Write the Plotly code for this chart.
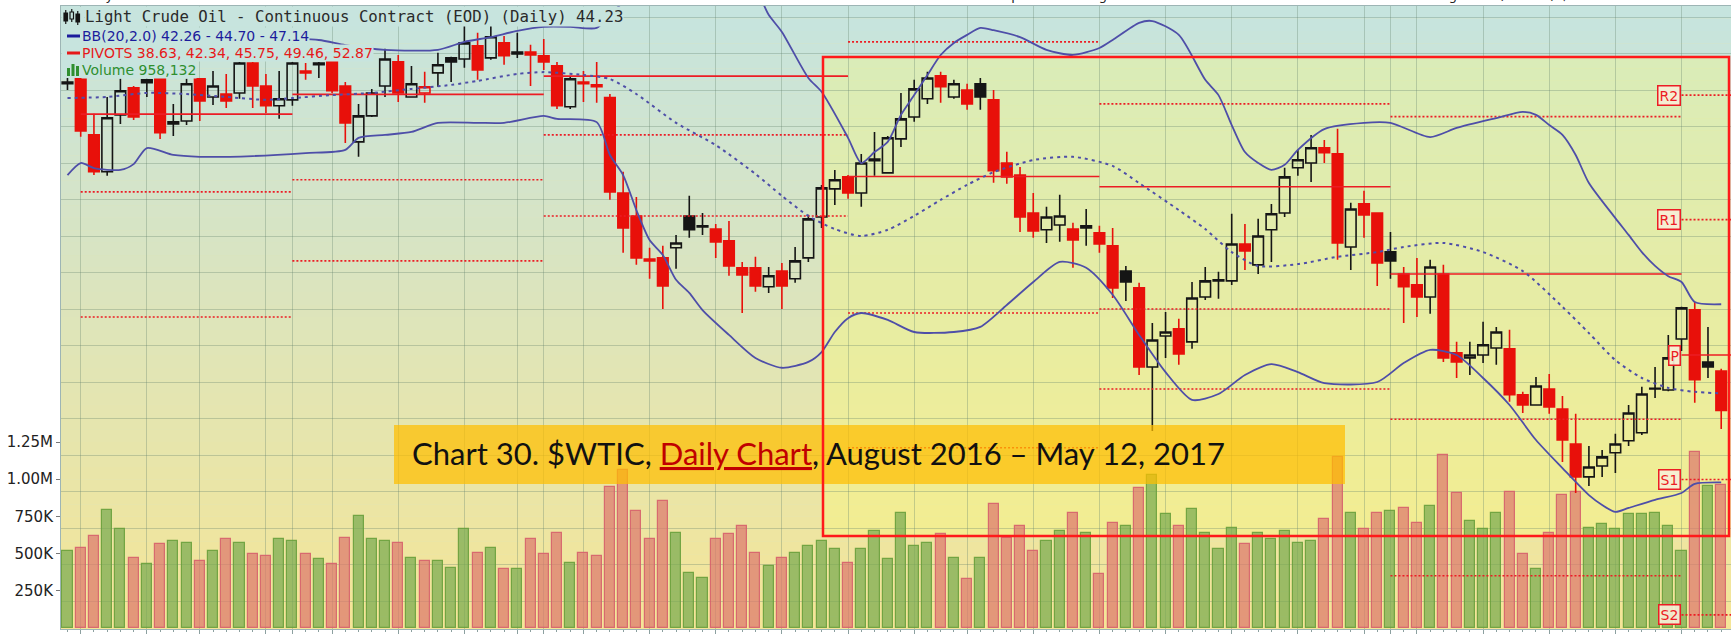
import plotly.graph_objects as go

# ---------------- data ----------------
open_ = [53.18, 53.32, 51.78, 50.77, 52.33, 53.07, 53.29, 53.32, 52.14, 52.16,
         53.32, 52.82, 52.90, 52.93, 53.75, 53.12, 52.58, 52.74, 53.53, 53.75,
         53.78, 53.12, 51.59, 52.30, 53.12, 53.78, 52.82, 52.93, 53.48, 53.89,
         53.86, 54.22, 53.89, 54.30, 54.05, 54.05, 53.95, 53.67, 52.55, 53.23,
         53.15, 52.80, 50.19, 49.56, 48.38, 48.41, 48.69, 49.56, 49.29, 49.20,
         48.88, 48.14, 48.14, 47.62, 48.05, 47.84, 48.41, 49.53, 50.30, 50.63,
         50.19, 51.12, 50.74, 51.67, 52.27, 52.77, 53.40, 52.82, 53.01, 53.18,
         52.74, 51.01, 50.68, 49.64, 49.18, 49.31, 49.20, 49.29, 49.10, 48.74,
         48.05, 47.59, 45.42, 46.27, 46.47, 46.11, 47.34, 47.78, 47.78, 48.79,
         48.22, 49.18, 49.64, 50.88, 51.01, 51.43, 51.26, 48.71, 49.89, 49.64,
         48.58, 47.97, 47.67, 47.34, 47.97, 45.81, 45.67, 45.75, 45.94, 45.92,
         44.66, 44.38, 44.82, 44.27, 43.31, 42.41, 42.71, 43.07, 43.40, 43.62,
         44.84, 44.79, 46.19, 46.99, 45.56, 45.31]
high = [53.34, 53.34, 52.36, 52.82, 53.32, 53.12, 53.32, 53.34, 52.63, 53.32,
        53.34, 53.53, 53.45, 53.78, 53.78, 53.45, 53.53, 53.78, 53.75, 53.78,
        53.80, 53.23, 52.63, 53.04, 54.14, 53.97, 53.67, 53.51, 54.03, 53.92,
        54.77, 54.58, 54.80, 54.49, 54.58, 54.25, 54.41, 53.78, 53.37, 53.53,
        53.78, 52.90, 50.77, 50.08, 48.69, 48.74, 49.04, 50.11, 49.64, 49.34,
        49.42, 48.30, 48.44, 48.16, 48.27, 48.71, 49.59, 50.41, 50.82, 50.68,
        51.26, 51.86, 51.75, 52.93, 53.29, 53.51, 53.51, 53.29, 53.18, 53.34,
        53.01, 51.32, 50.90, 50.19, 49.81, 50.14, 49.37, 49.75, 49.29, 49.23,
        48.19, 47.73, 46.63, 46.93, 46.74, 47.75, 48.16, 48.03, 49.62, 49.34,
        49.48, 49.89, 50.88, 51.37, 51.78, 51.64, 51.95, 49.92, 50.25, 49.66,
        49.12, 48.16, 48.41, 48.36, 48.22, 46.11, 46.11, 46.66, 46.52, 46.44,
        44.74, 45.15, 45.23, 44.63, 44.14, 43.26, 43.15, 43.59, 44.38, 44.88,
        45.42, 46.30, 47.07, 47.21, 46.52, 45.37]
low = [53.01, 51.73, 50.68, 50.66, 52.08, 52.19, 52.82, 51.67, 51.75, 52.05,
       52.16, 52.60, 52.52, 52.77, 52.52, 52.38, 52.22, 52.58, 53.29, 53.34,
       52.93, 51.56, 51.18, 52.27, 52.82, 52.68, 52.80, 52.66, 53.10, 53.23,
       53.62, 53.29, 53.84, 53.70, 53.89, 53.12, 53.56, 52.49, 52.49, 52.68,
       52.66, 50.00, 48.55, 48.22, 47.84, 47.01, 48.11, 48.96, 49.04, 48.41,
       47.92, 46.90, 47.48, 47.45, 47.01, 47.73, 48.30, 49.23, 49.86, 50.03,
       49.81, 50.66, 50.72, 51.45, 52.14, 52.63, 52.66, 52.77, 52.47, 52.47,
       50.47, 50.44, 49.12, 48.96, 48.82, 48.85, 48.14, 48.74, 48.55, 47.31,
       47.23, 45.20, 43.67, 45.67, 45.48, 45.92, 47.26, 47.29, 47.67, 48.08,
       47.97, 48.30, 49.53, 50.66, 50.49, 51.01, 48.36, 48.08, 48.96, 47.64,
       47.84, 46.63, 46.79, 46.88, 45.56, 45.12, 45.20, 45.53, 45.48, 44.47,
       44.16, 44.36, 44.14, 42.82, 41.97, 42.16, 42.41, 42.52, 43.26, 43.56,
       44.57, 44.76, 45.86, 44.44, 45.12, 43.72]
close = [53.23, 51.89, 50.77, 52.25, 52.99, 52.27, 53.21, 51.84, 52.08, 53.18,
         52.71, 53.12, 52.71, 53.75, 53.12, 52.58, 52.77, 53.75, 53.48, 53.70,
         52.99, 52.11, 52.30, 52.93, 53.86, 52.93, 53.18, 53.10, 53.70, 53.78,
         54.30, 53.56, 54.47, 53.95, 54.00, 53.97, 53.78, 52.58, 53.32, 53.18,
         53.10, 50.22, 49.23, 48.41, 48.33, 47.64, 48.82, 49.18, 49.26, 48.85,
         48.19, 47.94, 47.64, 47.92, 47.64, 48.33, 49.48, 50.33, 50.55, 50.19,
         51.01, 51.07, 51.70, 52.22, 53.04, 53.34, 53.10, 53.18, 52.63, 52.82,
         50.80, 50.63, 49.53, 49.15, 49.53, 49.56, 48.90, 49.23, 48.79, 47.59,
         47.75, 45.42, 46.16, 46.38, 45.78, 47.31, 47.78, 47.81, 48.79, 48.60,
         49.01, 49.62, 50.63, 51.10, 51.43, 51.29, 48.82, 49.75, 49.59, 48.27,
         48.33, 47.62, 47.34, 48.16, 45.67, 45.56, 45.75, 46.03, 46.38, 44.66,
         44.38, 44.90, 44.33, 43.42, 42.41, 42.68, 42.96, 43.31, 44.16, 44.68,
         44.82, 45.67, 47.04, 45.07, 45.42, 44.23]
# daily volume, thousands of contracts
volume_k = [517, 540, 616, 795, 663, 473, 428, 562, 585, 573,
            450, 517, 596, 573, 495, 484, 596, 585, 495, 461,
            428, 607, 750, 596, 585, 573, 473, 450, 450, 405,
            663, 506, 540, 394, 394, 596, 495, 641, 439, 506,
            484, 950, 1062, 784, 596, 851, 641, 372, 338, 596,
            630, 685, 506, 417, 473, 506, 551, 585, 529, 439,
            529, 652, 461, 773, 551, 573, 630, 473, 327, 473,
            831, 607, 685, 517, 585, 652, 775, 641, 361, 708,
            685, 943, 1028, 764, 685, 797, 641, 529, 674, 562,
            641, 596, 652, 573, 585, 730, 1151, 775, 663, 775,
            786, 809, 708, 820, 1163, 905, 719, 663, 775, 916,
            497, 396, 641, 894, 916, 674, 697, 663, 764, 764,
            775, 685, 517, 1185, 954, 958.132]

# Bollinger Bands (20, 2.0) sampled along the session index
bb_upper_idx = [0, 5, 10, 15, 19, 21, 24, 28, 30, 32, 34, 36, 38, 40, 41, 42, 44, 48, 52, 53,
                54, 56, 57, 59, 60, 61, 62, 63, 64, 65, 66, 67, 68, 69, 70, 72, 74, 76, 78, 79,
                81, 82, 84, 86, 87, 88, 89, 90, 91, 92, 93, 95, 98, 100, 103, 105, 108, 110, 111, 112,
                113, 114, 115, 117, 118, 119, 120, 121, 122, 123, 125]
bb_upper = [54.38, 54.41, 54.44, 54.44, 54.38, 54.24, 54.11, 54.11, 54.33, 54.46,
            54.63, 54.74, 54.74, 54.71, 55.07, 55.42, 56.16, 56.57, 55.75, 55.07,
            54.60, 53.34, 52.96, 51.70, 51.01, 51.31, 51.59, 52.33, 52.87, 53.42,
            53.97, 54.30, 54.52, 54.71, 54.65, 54.46, 54.11, 53.97, 54.16, 54.38,
            54.85, 54.90, 54.52, 53.29, 52.87, 52.05, 51.31, 51.01, 50.82, 50.96,
            51.37, 51.94, 52.11, 52.11, 51.72, 51.97, 52.24, 52.41, 52.33, 52.05,
            51.78, 51.23, 50.46, 49.50, 49.04, 48.57, 48.19, 47.91, 47.75, 47.20, 47.14]
bb_mid_idx = [0, 3, 6, 9, 12, 15, 17, 20, 23, 26, 29, 31, 34, 36, 39, 41, 43, 46, 49, 52,
              54, 56, 58, 60, 62, 64, 66, 68, 70, 73, 76, 79, 81, 84, 86, 88, 90, 93, 96, 99,
              101, 104, 107, 110, 113, 115, 117, 119, 121, 123, 125]
bb_mid = [52.79, 52.82, 52.93, 52.90, 52.82, 52.74, 52.79, 52.87, 52.93, 53.04,
          53.15, 53.26, 53.45, 53.50, 53.42, 53.31, 52.90, 52.11, 51.50, 50.71,
          50.11, 49.56, 49.20, 49.01, 49.18, 49.56, 50.00, 50.41, 50.76, 51.09,
          51.18, 50.93, 50.46, 49.72, 49.20, 48.57, 48.19, 48.24, 48.44, 48.57,
          48.71, 48.82, 48.57, 48.05, 47.07, 46.35, 45.61, 45.12, 44.85, 44.74, 44.70]
bb_lower_idx = [0, 1, 2, 4, 5, 6, 8, 10, 14, 18, 21, 22, 24, 26, 28, 31, 33, 36, 37, 40,
                41, 42, 43, 44, 45, 46, 47, 48, 50, 52, 54, 56, 57, 58, 59, 60, 62, 64, 67, 69,
                71, 73, 75, 77, 79, 81, 83, 85, 87, 89, 91, 93, 95, 99, 101, 103, 105, 107, 109, 111,
                113, 115, 116, 117, 118, 120, 122, 123, 125]
bb_lower = [50.68, 51.01, 50.87, 50.82, 50.98, 51.42, 51.23, 51.18, 51.20, 51.28,
            51.37, 51.70, 51.78, 51.86, 52.11, 52.11, 52.11, 52.30, 52.22, 52.13,
            51.23, 50.68, 49.72, 48.90, 48.49, 47.81, 47.45, 46.98, 46.30, 45.67,
            45.40, 45.56, 45.83, 46.38, 46.76, 46.90, 46.71, 46.38, 46.38, 46.52,
            47.12, 47.75, 48.30, 48.14, 47.40, 46.30, 45.28, 44.52, 44.68, 45.20,
            45.50, 45.28, 44.98, 45.01, 45.53, 45.89, 45.75, 45.12, 44.38, 43.42,
            42.65, 41.91, 41.64, 41.45, 41.56, 41.78, 41.97, 42.22, 42.26]

# monthly pivot levels, one value per pivot period
period_start = [1, 17, 36, 59, 78, 100, 122]
pivot_R2 = [57.91, 57.45, 57.22, 58.07, 55.98, 56.26, 52.87]
pivot_R1 = [55.78, 55.11, 55.61, 54.33, 52.63, 52.28, 49.46]
pivot_P = [52.35, 52.89, 53.39, 50.64, 50.36, 47.97, 45.75]
pivot_S1 = [50.22, 50.55, 51.78, 46.90, 47.01, 43.99, 42.34]
pivot_S2 = [46.79, 48.33, 49.56, 43.21, 44.82, 39.70, 38.63]

# session index of week starts (vertical grid) and month labels
week_lines = [1, 6, 10, 15, 17, 20, 25, 30, 34, 36, 39, 44, 49, 54, 59, 64, 68, 73, 78,
              83, 88, 93, 98, 100, 102, 107, 112, 117, 122]
month_labels = ["Dec", "2017", "Feb", "Mar", "Apr", "May"]

# ---------------- styling ----------------
W, H = 1731, 634
L, T, B = 61, 6, 5
PW, PH = W - L, H - T - B


def px_x(x):
    return (x - L) / PW


def px_y(y):
    return (H - B - y) / PH


RED = "#e8100a"
BLACK = "#151515"
PIV = "#ec1c24"
BBC = "rgb(78,78,168)"
GRID = "rgba(100,130,110,0.33)"
BG_TOP = (198, 228, 223)
BG_BOT = (245, 229, 150)

n = len(close)
idx = list(range(n))
up = [True] + [close[i] >= close[i - 1] for i in range(1, n)]

fig = go.Figure()

# volume bars (primary y axis, drawn underneath price)
fig.add_trace(go.Bar(
    x=idx, y=[v * 1000 for v in volume_k], width=0.76, yaxis="y",
    marker=dict(color=["rgba(120,170,80,0.72)" if u else "rgba(220,120,110,0.72)" for u in up],
                line=dict(color=["rgba(105,160,60,0.9)" if u else "rgba(214,96,108,0.9)" for u in up],
                          width=1.2)),
    hoverinfo="skip", showlegend=False))

# pivot segments
for vals, dash in [(pivot_R2, "2px,2px"), (pivot_R1, "2px,2px"), (pivot_P, "solid"),
                   (pivot_S1, "2px,2px"), (pivot_S2, "2px,2px")]:
    xs, ys = [], []
    for m, v in enumerate(vals):
        x0 = period_start[m]
        x1 = period_start[m + 1] if m + 1 < len(period_start) else n
        xs += [x0, x1, None]
        ys += [v, v, None]
    fig.add_trace(go.Scatter(x=xs, y=ys, mode="lines", yaxis="y2",
                             line=dict(color=PIV, width=1.6, dash=dash),
                             hoverinfo="skip", showlegend=False))

# candles: black when close >= previous close, red otherwise; hollow when close > open
for colr, flag in [(BLACK, True), (RED, False)]:
    sel = [i for i in idx if up[i] == flag]
    fig.add_trace(go.Candlestick(
        x=sel, open=[open_[i] for i in sel], high=[high[i] for i in sel],
        low=[low[i] for i in sel], close=[close[i] for i in sel], yaxis="y2",
        increasing=dict(line=dict(color=colr, width=1.6), fillcolor="rgba(0,0,0,0)"),
        decreasing=dict(line=dict(color=colr, width=1.6), fillcolor=colr),
        whiskerwidth=0, hoverinfo="skip", showlegend=False))

# Bollinger bands
fig.add_trace(go.Scatter(x=bb_upper_idx, y=bb_upper, mode="lines", yaxis="y2",
                         line=dict(color=BBC, width=1.8, shape="spline", smoothing=0.7),
                         hoverinfo="skip", showlegend=False))
fig.add_trace(go.Scatter(x=bb_lower_idx, y=bb_lower, mode="lines", yaxis="y2",
                         line=dict(color=BBC, width=1.8, shape="spline", smoothing=0.7),
                         hoverinfo="skip", showlegend=False))
fig.add_trace(go.Scatter(x=bb_mid_idx, y=bb_mid, mode="lines", yaxis="y2",
                         line=dict(color=BBC, width=2, dash="3px,4px", shape="spline", smoothing=0.7),
                         hoverinfo="skip", showlegend=False))

shapes = []
# vertical gradient background of the plotting area
NB = 50
for k in range(NB):
    f = (k + 0.5) / NB
    c = tuple(round(BG_TOP[j] + (BG_BOT[j] - BG_TOP[j]) * f) for j in range(3))
    shapes.append(dict(type="rect", xref="paper", yref="paper", layer="below",
                       x0=0, x1=1, y0=1 - (k + 1) / NB, y1=1 - k / NB,
                       fillcolor="rgb(%d,%d,%d)" % c, line=dict(width=0)))

# highlighted region tint (behind the data), caption box, then region outline
shapes.append(dict(type="rect", xref="paper", yref="paper", layer="below",
                   x0=px_x(823), x1=px_x(1729), y0=px_y(536), y1=px_y(57),
                   fillcolor="rgba(255,255,110,0.30)", line=dict(width=0)))
shapes.append(dict(type="rect", xref="paper", yref="paper", layer="above",
                   x0=px_x(394), x1=px_x(1345), y0=px_y(484), y1=px_y(425),
                   fillcolor="rgba(255,190,0,0.72)", line=dict(width=0)))
shapes.append(dict(type="rect", xref="paper", yref="paper", layer="above",
                   x0=px_x(823), x1=px_x(1729), y0=px_y(536), y1=px_y(57),
                   fillcolor="rgba(0,0,0,0)", line=dict(color="#ff1a1a", width=2.5)))

# legend symbol column
shapes.append(dict(type="rect", xref="paper", yref="paper", layer="above",
                   x0=px_x(61.5), x1=px_x(84), y0=px_y(78), y1=px_y(7),
                   fillcolor="rgb(199,228,222)", line=dict(width=0)))
for (x0, x1, y0, y1, filled) in [(64, 67.5, 13, 21, True), (70, 73.5, 12, 19, False), (76, 79.5, 14, 22, True)]:
    xm = (x0 + x1) / 2
    shapes.append(dict(type="line", xref="paper", yref="paper", layer="above",
                       x0=px_x(xm), x1=px_x(xm), y0=px_y(y0 - 3), y1=px_y(y1 + 3),
                       line=dict(color=BLACK, width=1.2)))
    shapes.append(dict(type="rect", xref="paper", yref="paper", layer="above",
                       x0=px_x(x0), x1=px_x(x1), y0=px_y(y1), y1=px_y(y0),
                       fillcolor=BLACK if filled else "rgb(199,228,222)",
                       line=dict(color=BLACK, width=1.2)))
shapes.append(dict(type="line", xref="paper", yref="paper", layer="above",
                   x0=px_x(67), x1=px_x(80), y0=px_y(36), y1=px_y(36),
                   line=dict(color="#1c1c9c", width=3)))
shapes.append(dict(type="line", xref="paper", yref="paper", layer="above",
                   x0=px_x(67), x1=px_x(80), y0=px_y(53), y1=px_y(53),
                   line=dict(color="#e61919", width=3)))
for (x0, x1, y0) in [(67, 70, 68), (71.5, 74.5, 64), (76, 79, 66)]:
    shapes.append(dict(type="rect", xref="paper", yref="paper", layer="above",
                       x0=px_x(x0), x1=px_x(x1), y0=px_y(76), y1=px_y(y0),
                       fillcolor="#2f8f2f", line=dict(width=0)))

annotations = []
LEG_BG = "rgb(199,228,222)"
annotations.append(dict(
    xref="paper", yref="paper", x=px_x(84), y=px_y(17), xanchor="left", yanchor="middle",
    text="Light Crude Oil - Continuous Contract (EOD) (Daily) %.2f" % close[-1],
    showarrow=False, bgcolor=LEG_BG, borderpad=0,
    font=dict(family="DejaVu Sans Mono", size=15.7, color="#2a2a2a")))
annotations.append(dict(
    xref="paper", yref="paper", x=px_x(81), y=px_y(36), xanchor="left", yanchor="middle",
    text="BB(20,2.0) %.2f - %.2f - %.2f" % (bb_lower[-1], bb_mid[-1], bb_upper[-1]),
    showarrow=False, bgcolor=LEG_BG, borderpad=0,
    font=dict(family="DejaVu Sans", size=14, color="#1c1c9c")))
annotations.append(dict(
    xref="paper", yref="paper", x=px_x(81), y=px_y(53), xanchor="left", yanchor="middle",
    text="PIVOTS " + ", ".join("%.2f" % v[-1] for v in [pivot_S2, pivot_S1, pivot_P, pivot_R1, pivot_R2]),
    showarrow=False, bgcolor=LEG_BG, borderpad=0,
    font=dict(family="DejaVu Sans", size=14, color="#e61919")))
annotations.append(dict(
    xref="paper", yref="paper", x=px_x(81), y=px_y(70), xanchor="left", yanchor="middle",
    text="Volume {:,}".format(round(volume_k[-1] * 1000)),
    showarrow=False, bgcolor=LEG_BG, borderpad=0,
    font=dict(family="DejaVu Sans", size=14, color="#2f8f2f")))

# header lines above the plotting area
annotations.append(dict(
    xref="paper", yref="paper", x=px_x(63), y=px_y(-4), xanchor="left", yanchor="middle",
    text="12-May-2017", showarrow=False,
    font=dict(family="DejaVu Sans", size=13, color="#222")))
chg = close[-1] - close[-2]
annotations.append(dict(
    xref="paper", yref="paper", x=px_x(999), y=px_y(-4), xanchor="left", yanchor="middle",
    text="Open %.2f  High %.2f  Low %.2f  Close %.2f  Volume %.1fK  Chg %.2f (%.2f%%) \u25bc"
         % (open_[-1], high[-1], low[-1], close[-1], volume_k[-1], chg, chg / close[-2] * 100),
    showarrow=False, font=dict(family="DejaVu Sans", size=13, color="#222")))

# pivot level tags for the current period
for name, vals in [("R2", pivot_R2), ("R1", pivot_R1), ("P", pivot_P), ("S1", pivot_S1), ("S2", pivot_S2)]:
    annotations.append(dict(
        x=period_start[-1], y=vals[-1], xref="x", yref="y2", xanchor="right", yanchor="middle",
        xshift=-1, text=name, showarrow=False, bgcolor="rgba(246,238,214,0.92)",
        bordercolor=PIV, borderwidth=1.5, borderpad=1,
        font=dict(family="DejaVu Sans", size=14, color=PIV)))

# month labels under the axis
for m, lab in enumerate(month_labels):
    annotations.append(dict(
        x=period_start[m + 1], y=0, xref="x", yref="paper", xanchor="center", yanchor="top",
        yshift=-1, text=lab, showarrow=False,
        font=dict(family="DejaVu Sans", size=13, color="#333")))

# caption
annotations.append(dict(
    xref="paper", yref="paper", x=px_x(410), y=px_y(453), xanchor="left", yanchor="middle",
    text="Chart 30. $WTIC, <span style='color:#c00000;text-decoration:underline'>Daily Chart</span>, "
         "August 2016 \u2013 May 12, 2017",
    showarrow=False, font=dict(family="Lato", size=31, color="#111")))

price_top = 55.476 - T / 36.5
price_bot = 55.476 - (H - B) / 36.5
vol_top = (628 - T) / 37.2 * 250000
vol_bot = (628 - (H - B)) / 37.2 * 250000

fig.update_layout(
    width=W, height=H, margin=dict(l=L, r=0, t=T, b=B, pad=0),
    paper_bgcolor="white", plot_bgcolor="rgb(222,228,186)",
    showlegend=False, boxgap=0.2, boxgroupgap=0, bargap=0,
    shapes=shapes, annotations=annotations,
    xaxis=dict(range=[-0.49, 125.74], tickmode="array", tickvals=week_lines,
               ticktext=[""] * len(week_lines), showgrid=True, gridcolor=GRID, gridwidth=1,
               ticks="outside", ticklen=4, tickcolor="#8ca0a0",
               showline=True, linecolor="#9db5b5", linewidth=1, mirror=True,
               zeroline=False, rangeslider=dict(visible=False), fixedrange=True,
               minor=dict(tickmode="linear", tick0=0, dtick=1, ticks="outside", ticklen=2,
                          tickcolor="#8ca0a0", showgrid=False)),
    yaxis=dict(range=[vol_bot, vol_top], tickmode="array",
               tickvals=[250000, 500000, 750000, 1000000, 1250000],
               ticktext=["250K", "500K", "750K", "1.00M", "1.25M"],
               ticks="outside", ticklen=4, tickcolor="#777",
               tickfont=dict(family="DejaVu Sans", size=15, color="#222"),
               showgrid=False, zeroline=False, showline=True, linecolor="#9db5b5", linewidth=1),
    yaxis2=dict(range=[price_bot, price_top], overlaying="y", side="right",
                showticklabels=False, ticks="", tickmode="linear", tick0=0, dtick=1,
                showgrid=True, gridcolor=GRID, gridwidth=1, zeroline=False, showline=False),
)

fig.write_html("out.html")
